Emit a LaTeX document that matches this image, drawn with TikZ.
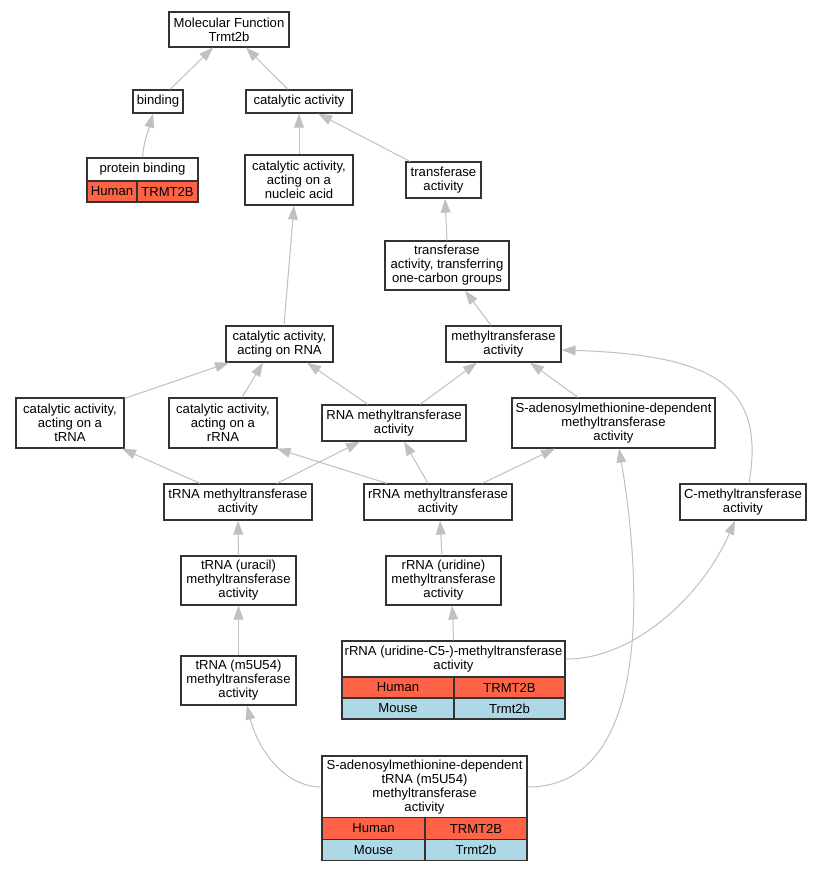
\documentclass[tikz,border=0pt]{standalone}
\usepackage{fontspec}
\setmainfont{Liberation Sans}
\usetikzlibrary{arrows.meta}
\definecolor{edgecol}{HTML}{C0C0C0}
\definecolor{bordercol}{HTML}{333333}
\definecolor{humancol}{HTML}{FF6347}
\definecolor{mousecol}{HTML}{ADD8E6}
\tikzset{
  box/.style={draw=bordercol, line width=1.2pt, fill=white, inner sep=0pt, align=center,
    font=\fontsize{13.1}{14}\selectfont},
  hcell/.style={box, fill=humancol},
  mcell/.style={box, fill=mousecol},
  edge/.style={draw=edgecol, line width=1pt, -{Triangle[length=14pt,width=9.8pt]}},
}
\newcommand{\bx}[6]{\node[box, minimum width=#4pt, minimum height=#5pt] (#1) at (#2,#3) {#6};}
\begin{document}
\begin{tikzpicture}[x=1pt,y=-1pt]
\fill[white] (0,0) rectangle (821,872);
\useasboundingbox (0,0) rectangle (821,872);

% nodes
\bx{mf}{229}{29.5}{120}{35}{Molecular Function\\Trmt2b}
\bx{bind}{158}{101.5}{50}{23}{binding}
\bx{cat}{299}{101.5}{106}{23}{catalytic activity}
\bx{pb}{142.5}{169.5}{111}{23}{protein binding}
\node[hcell, minimum width=50pt, minimum height=21pt] (pbh) at (112,191.5) {Human};
\node[hcell, minimum width=61pt, minimum height=21pt] (pbg) at (167.5,191.5) {TRMT2B};
\bx{catnuc}{299}{180}{108}{50}{catalytic activity,\\acting on a\\nucleic acid}
\bx{tact}{443.5}{180}{75}{36}{transferase\\activity}
\bx{tone}{447}{265.5}{124}{49}{transferase\\activity, transferring\\one-carbon groups}
\bx{mt}{503.5}{344}{115}{36}{methyltransferase\\activity}
\bx{crna}{279.5}{344}{107}{36}{catalytic activity,\\acting on RNA}
\bx{ctrna}{70}{423}{108}{50}{catalytic activity,\\acting on a\\tRNA}
\bx{crrna}{223}{423}{108}{50}{catalytic activity,\\acting on a\\rRNA}
\bx{rnamt}{394}{423}{144}{36}{RNA methyltransferase\\activity}
\bx{samd}{613.5}{423}{203}{50}{S-adenosylmethionine-dependent\\methyltransferase\\activity}
\bx{tmt}{238}{502}{148}{36}{tRNA methyltransferase\\activity}
\bx{rmt}{438}{502}{148}{36}{rRNA methyltransferase\\activity}
\bx{cmt}{743}{502}{126}{36}{C-methyltransferase\\activity}
\bx{tura}{238.5}{580.5}{115}{49}{tRNA (uracil)\\methyltransferase\\activity}
\bx{ruri}{443.5}{580.5}{115}{49}{rRNA (uridine)\\methyltransferase\\activity}
\bx{tm5}{238.5}{680.5}{115}{49}{tRNA (m5U54)\\methyltransferase\\activity}
\bx{rc5}{453.5}{659}{223}{36}{rRNA (uridine-C5-)-methyltransferase\\activity}
\node[hcell, minimum width=112pt, minimum height=21pt] (rc5h) at (398,687.5) {Human};
\node[hcell, minimum width=111pt, minimum height=21pt] (rc5hg) at (509.5,687.5) {TRMT2B};
\node[mcell, minimum width=112pt, minimum height=21pt] (rc5m) at (398,708.5) {Mouse};
\node[mcell, minimum width=111pt, minimum height=21pt] (rc5mg) at (509.5,708.5) {Trmt2b};
\bx{samt}{424.5}{787}{205}{62}{S-adenosylmethionine-dependent\\tRNA (m5U54)\\methyltransferase\\activity}
\node[hcell, minimum width=103pt, minimum height=21.5pt] (samth) at (373.5,828.5) {Human};
\node[hcell, minimum width=102pt, minimum height=21.5pt] (samthg) at (476,828.5) {TRMT2B};
\node[mcell, minimum width=103pt, minimum height=21.5pt] (samtm) at (373.5,850) {Mouse};
\node[mcell, minimum width=102pt, minimum height=21.5pt] (samtmg) at (476,850) {Trmt2b};

% edges
\draw[edge] ([xshift=12pt]bind.north) -- ([xshift=-16pt]mf.south);
\draw[edge] ([xshift=-11pt]cat.north) -- ([xshift=17pt]mf.south);
\draw[edge] (pb.north) to[out=85,in=-105] ([xshift=-5pt]bind.south);
\draw[edge] (catnuc.north) -- (cat.south);
\draw[edge] ([xshift=-33.5pt]tact.north) -- ([xshift=19pt]cat.south);
\draw[edge] (tone.north) -- ([xshift=1.5pt]tact.south);
\draw[edge] ([xshift=-12.5pt]mt.north) -- ([xshift=18pt]tone.south);
\draw[edge] ([xshift=4.5pt]crna.north) -- ([xshift=-5pt]catnuc.south);
\draw[edge] ([yshift=-1pt]ctrna.north east) -- ([xshift=-50.5pt]crna.south);
\draw[edge] ([xshift=19pt]crrna.north) -- ([xshift=-16.5pt]crna.south);
\draw[edge] ([xshift=-26pt]rnamt.north) -- ([xshift=27.5pt]crna.south);
\draw[edge] ([xshift=26pt]rnamt.north) -- ([xshift=-26.5pt]mt.south);
\draw[edge] ([xshift=-35.5pt]samd.north) -- ([xshift=26.5pt]mt.south);
\draw[edge] ([xshift=6pt]cmt.north) .. controls +(16,-94) and +(159,5) .. ([yshift=-6pt]mt.east);
\draw[edge] ([xshift=-38pt]tmt.north) -- ([xshift=52pt]ctrna.south);
\draw[edge] ([xshift=39pt]tmt.north) -- ([xshift=-34pt]rnamt.south);
\draw[edge] ([xshift=-51pt]rmt.north) -- ([xshift=-1pt]crrna.south east);
\draw[edge] ([xshift=-10pt]rmt.north) -- ([xshift=10pt]rnamt.south);
\draw[edge] ([xshift=44pt]rmt.north) -- ([xshift=-58.5pt]samd.south);
\draw[edge] (tura.north) -- (tmt.south);
\draw[edge] (tm5.north) -- (tura.south);
\draw[edge] ([xshift=-1.5pt]ruri.north) -- ([xshift=2pt]rmt.south);
\draw[edge] (rc5.north) to[out=92,in=-85] ([xshift=8.5pt]ruri.south);
\draw[edge] (rc5.east) .. controls +(64,1) and +(-35,80) .. ([xshift=-8pt]cmt.south);
\draw[edge] (samt.west) .. controls +(-37,0) and +(11,44) .. ([xshift=8.5pt]tm5.south);
\draw[edge] (samt.east) .. controls +(128,0) and +(21,122) .. ([xshift=5.5pt]samd.south);
\end{tikzpicture}
\end{document}
